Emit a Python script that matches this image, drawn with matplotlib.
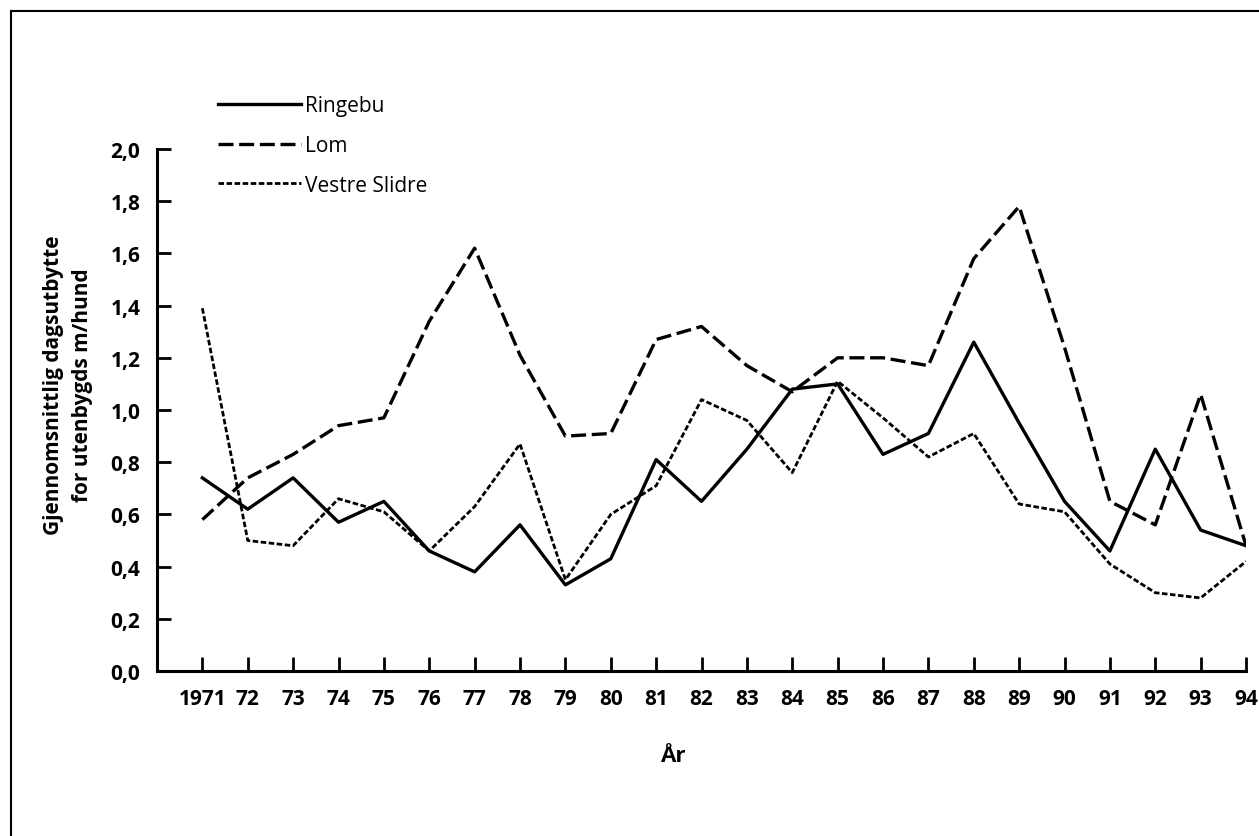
import matplotlib.pyplot as plt
from matplotlib.lines import Line2D

plt.rcParams['font.family'] = ['Open Sans', 'DejaVu Sans']

years = list(range(1971, 1995))
year_labels = ['1971'] + [str(y)[2:] for y in years[1:]]

ringebu = [0.74, 0.62, 0.74, 0.57, 0.65, 0.46, 0.38, 0.56, 0.33, 0.43, 0.81, 0.65,
           0.85, 1.08, 1.10, 0.83, 0.91, 1.26, 0.95, 0.65, 0.46, 0.85, 0.54, 0.48]
lom = [0.58, 0.74, 0.83, 0.94, 0.97, 1.34, 1.62, 1.21, 0.90, 0.91, 1.27, 1.32,
       1.17, 1.07, 1.20, 1.20, 1.17, 1.58, 1.78, 1.24, 0.65, 0.56, 1.06, 0.48]
vestre_slidre = [1.39, 0.50, 0.48, 0.66, 0.61, 0.46, 0.63, 0.87, 0.35, 0.60, 0.71, 1.04,
                 0.96, 0.76, 1.11, 0.97, 0.82, 0.91, 0.64, 0.61, 0.41, 0.30, 0.28, 0.42]

y_ticks = [0.0, 0.2, 0.4, 0.6, 0.8, 1.0, 1.2, 1.4, 1.6, 1.8, 2.0]

fig = plt.figure(figsize=(12.59, 8.37), dpi=100)
ax = fig.add_axes([0.1247, 0.1971, 0.865, 0.6237])

ax.plot(years, ringebu, color='black', lw=2.4, label='Ringebu')
ax.plot(years, lom, color='black', lw=2.4, dashes=(4.5, 1.7), label='Lom')
ax.plot(years, vestre_slidre, color='black', lw=2.0, dashes=(2.0, 0.9),
        label='Vestre Slidre')

ax.set_xlim(1970, 1994)
ax.set_ylim(0, 2.0)
ax.set_xticks(years)
ax.set_xticklabels(year_labels)
ax.set_yticks(y_ticks)
ax.set_yticklabels([f'{v:.1f}'.replace('.', ',') for v in y_ticks])

for side in ['top', 'right']:
    ax.spines[side].set_visible(False)
for side in ['left', 'bottom']:
    ax.spines[side].set_linewidth(2.2)

ax.tick_params(direction='in', length=10, width=2, labelsize=15, pad=12)
for lbl in ax.get_xticklabels() + ax.get_yticklabels():
    lbl.set_fontweight('bold')

fig.text(0.054, 0.54, 'Gjennomsnittlig dagsutbytte\nfor utenbygds m/hund',
         rotation=90, ha='center', va='center', multialignment='center',
         fontsize=15, fontweight='bold', linespacing=1.45)
fig.text(0.535, 0.0956, 'År', ha='center', va='center',
         fontsize=16, fontweight='bold')

ax.legend(loc='upper left', bbox_to_anchor=(0.173, 0.885),
          bbox_transform=fig.transFigure, frameon=False, fontsize=15,
          handlelength=4.0, handletextpad=0.2, labelspacing=0.9,
          borderpad=0, borderaxespad=0)

# page frame (top and left edges)
fig.add_artist(Line2D([0.0087, 0.0087], [0.0, 0.9857], color='black', lw=1.5))
fig.add_artist(Line2D([0.0087, 1.0], [0.9857, 0.9857], color='black', lw=1.5))

fig.savefig('out.png', dpi=100)
